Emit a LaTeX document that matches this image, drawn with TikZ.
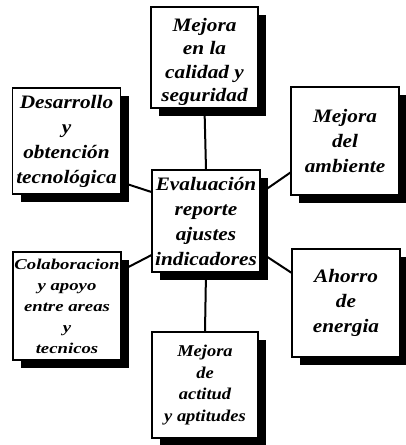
\documentclass[tikz,border=0pt]{standalone}
\usepackage{fontspec}
\setmainfont{Liberation Serif}
\newfontfamily\boxfont[FakeStretch=1.12]{Liberation Serif}
\newfontfamily\widefont[FakeStretch=1.25]{Liberation Serif}
\usetikzlibrary{shadows,backgrounds}
\begin{document}
\begin{tikzpicture}[x=1pt,y=-1pt,
  box/.style={draw=black, line width=1.1pt, fill=white, inner sep=0pt,
    minimum width=108pt, minimum height=106pt, align=center,
    font=\boxfont\fontsize{19}{25}\selectfont\bfseries\itshape,
    drop shadow={shadow xshift=8pt, shadow yshift=-8pt, fill=black, opacity=1}},
  smalltext/.style={font=\boxfont\fontsize{16.5}{21.5}\selectfont\bfseries\itshape},
  widetext/.style={font=\widefont\fontsize{15}{21}\selectfont\bfseries\itshape},
  link/.style={line width=2pt, black}]
\useasboundingbox (0,0) rectangle (405,445);
% central node
\node[box, minimum height=102pt] (eval) at (206,221) {Evaluación\\reporte\\ajustes\\indicadores};
% surrounding nodes
\node[box, minimum width=107pt, minimum height=101pt] (calidad) at (204.5,57.5) {};
\node[align=center, font=\boxfont\fontsize{19}{23.5}\selectfont\bfseries\itshape] (calidadtext) at (204.5,62) {Mejora\\en la\\calidad y\\seguridad};
\node[box] (desarrollo) at (66.5,141) {Desarrollo\\y\\obtención\\tecnológica};
\node[box, minimum height=108pt] (ambiente) at (345,141) {Mejora\\del\\ambiente};
\node[box, widetext, minimum height=108pt] (colab) at (67,306) {Colaboracion\\y apoyo\\entre areas\\y\\tecnicos};
\node[box, minimum height=108pt] (ahorro) at (346,303) {Ahorro\\de\\energia};
\node[box, smalltext, minimum width=106pt] (actitud) at (205,385) {Mejora\\de\\actitud\\y aptitudes};
% connectors behind the boxes
\begin{pgfonlayer}{background}
  \draw[link] (calidad.south) -- (eval.north);
  \draw[link] (eval.south) -- (actitud.north);
  \draw[link] (desarrollo.-37) -- (eval.152);
  \draw[link] (ambiente.210) -- (eval.27);
  \draw[link] (colab.33) -- (eval.212);
  \draw[link] (ahorro.151) -- (eval.-30);
\end{pgfonlayer}
\end{tikzpicture}
\end{document}
